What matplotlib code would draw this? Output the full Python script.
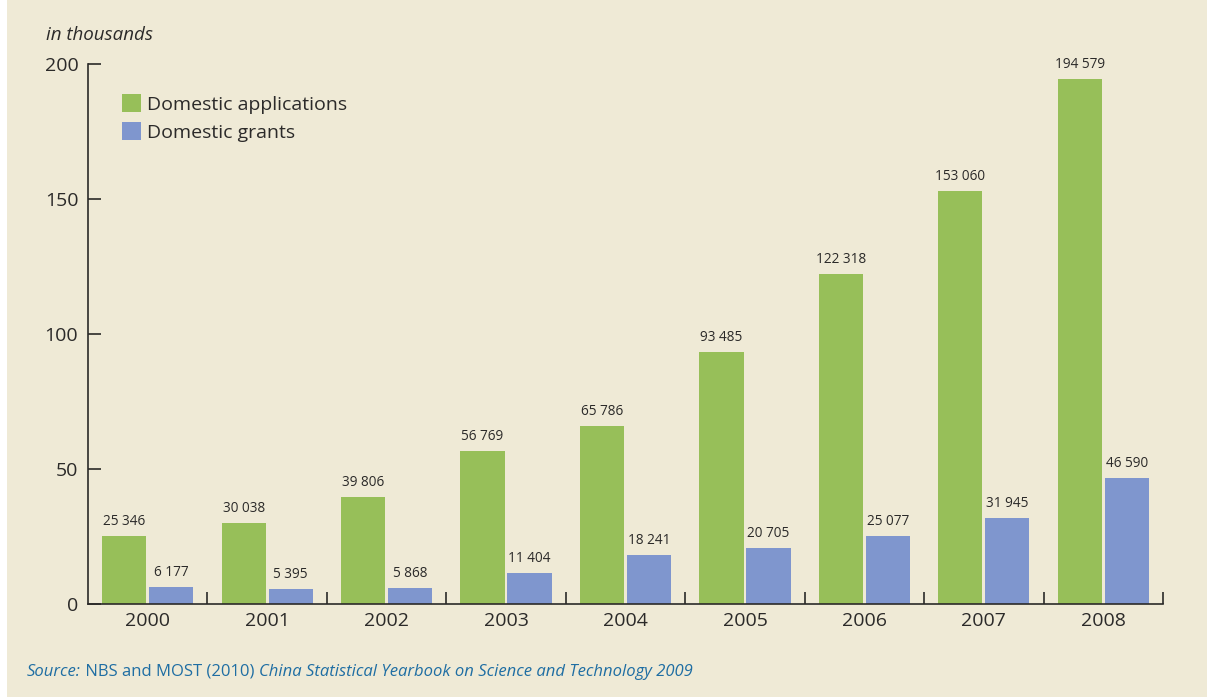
import matplotlib
matplotlib.use("Agg")
import matplotlib.pyplot as plt
import numpy as np
from matplotlib.patches import Rectangle

years = ["2000", "2001", "2002", "2003", "2004", "2005", "2006", "2007", "2008"]
applications = [25346, 30038, 39806, 56769, 65786, 93485, 122318, 153060, 194579]
grants = [6177, 5395, 5868, 11404, 18241, 20705, 25077, 31945, 46590]
yticks = [0, 50, 100, 150, 200]

plt.rcParams['font.family'] = ['Open Sans', 'DejaVu Sans']
BG = '#EFEAD6'
GREEN = '#97BF59'
BLUE = '#7F96CE'
DARK = '#2B2A29'
SRC = '#1F6EA3'

fig = plt.figure(figsize=(12.07, 6.97), dpi=100)
fig.patch.set_facecolor(BG)
fig.patches.append(Rectangle((0, 0), 7/1207, 1, transform=fig.transFigure,
                             facecolor='white', edgecolor='none', zorder=-1))

ax = fig.add_axes([88/1207, 1 - 604/697, (1163 - 88)/1207, (604 - 64)/697])
ax.set_facecolor(BG)

x = np.arange(len(years))
w = 0.37
off = 0.197
app_k = np.array(applications) / 1000
gr_k = np.array(grants) / 1000
ax.bar(x - off, app_k, w, color=GREEN, label='Domestic applications', zorder=2)
ax.bar(x + off, gr_k, w, color=BLUE, label='Domestic grants', zorder=2)

def fmt(v):
    return f"{v:,}".replace(",", " ")

for xi, v in zip(x, applications):
    ax.annotate(fmt(v), (xi - off, v / 1000), xytext=(0, 5), textcoords='offset points',
                ha='center', va='bottom', fontsize=9.8, color=DARK)
for xi, v in zip(x, grants):
    ax.annotate(fmt(v), (xi + off, v / 1000), xytext=(0, 5), textcoords='offset points',
                ha='center', va='bottom', fontsize=9.8, color=DARK)

ax.set_xlim(-0.5, len(years) - 0.5)
ax.set_ylim(0, 200)

for s in ['top', 'right']:
    ax.spines[s].set_visible(False)
for s in ['left', 'bottom']:
    ax.spines[s].set_color(DARK)
    ax.spines[s].set_linewidth(1.2)

ax.set_yticks(yticks)
ax.set_yticklabels([str(t) for t in yticks], fontsize=14, color=DARK)
ax.tick_params(axis='y', direction='in', length=9, width=1.2, color=DARK, pad=7)

ax.set_xticks(x)
ax.set_xticklabels(years, fontsize=14, color=DARK)
ax.tick_params(axis='x', which='major', length=0, pad=6)
ax.set_xticks(np.arange(0.5, len(years), 1.0), minor=True)
ax.tick_params(axis='x', which='minor', direction='in', length=9, width=1.2, color=DARK)

leg = ax.legend(loc='upper left', bbox_to_anchor=(0.0316, 0.944), frameon=False,
                fontsize=14, handlelength=1.0, handleheight=1.0, handletextpad=0.3,
                labelspacing=0.45, borderaxespad=0, borderpad=0)
for t in leg.get_texts():
    t.set_color(DARK)

fig.text(46/1207, 1 - 35/697, 'in thousands', fontsize=13.5, style='italic',
         color=DARK, ha='left', va='center')

fig.canvas.draw()
renderer = fig.canvas.get_renderer()
xpos = 27
parts = [('Source:', 'italic'), (' NBS and MOST (2010) ', 'normal'),
         ('China Statistical Yearbook on Science and Technology 2009', 'italic')]
for txt, st in parts:
    t = fig.text(xpos / 1207, 1 - 672/697, txt, fontsize=12, style=st, color=SRC,
                 ha='left', va='center')
    bb = t.get_window_extent(renderer=renderer)
    xpos += bb.width

fig.savefig('out.png', dpi=100, facecolor=fig.get_facecolor())
